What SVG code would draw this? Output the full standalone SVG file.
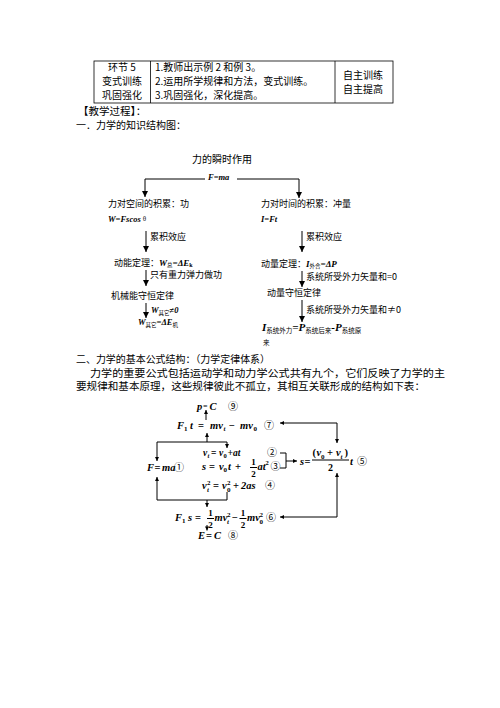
<svg xmlns="http://www.w3.org/2000/svg" width="500" height="708" viewBox="0 0 500 708">
<style>
text{fill:#000}
.cn{font-family:"Noto Sans CJK SC","Noto Sans CJK JP",sans-serif;font-weight:normal;font-style:normal}
.f{font-family:"Liberation Serif",serif;font-weight:bold;font-style:italic}
.r{font-family:"Liberation Serif",serif;font-weight:bold;font-style:normal}
.tb{stroke:#000;stroke-width:0.8;fill:none}
.ln{stroke:#000;stroke-width:1;fill:none}
.a1{marker-end:url(#ah1)}
.a2{marker-end:url(#ah2)}
.b2{marker-start:url(#ah2);marker-end:url(#ah2)}
</style>
<defs>
<marker id="ah1" viewBox="0 0 8 8" refX="8" refY="4" markerWidth="7" markerHeight="6" markerUnits="userSpaceOnUse" orient="auto-start-reverse"><path d="M0,0 L8,4 L0,8 z" fill="#000"/></marker>
<marker id="ah2" viewBox="0 0 8 8" refX="8" refY="4" markerWidth="5" markerHeight="4" markerUnits="userSpaceOnUse" orient="auto-start-reverse"><path d="M0,0 L8,4 L0,8 z" fill="#000"/></marker>
</defs>
<rect width="500" height="708" fill="#fff"/>

<g id="table">
<rect class="tb" x="94" y="61" width="299" height="42"/>
<line class="tb" x1="150.5" y1="61" x2="150.5" y2="103"/>
<line class="tb" x1="335" y1="61" x2="335" y2="103"/>
<text class="cn" font-size="10" x="122" y="71" text-anchor="middle">环节 5</text>
<text class="cn" font-size="10" x="122" y="85" text-anchor="middle">变式训练</text>
<text class="cn" font-size="10" x="122" y="99" text-anchor="middle">巩固强化</text>
<text class="cn" font-size="10" x="155" y="71">1.教师出示例 2 和例 3。</text>
<text class="cn" font-size="10" x="155" y="85">2.运用所学规律和方法，变式训练。</text>
<text class="cn" font-size="10" x="155" y="99">3.巩固强化，深化提高。</text>
<text class="cn" font-size="10" x="363" y="79" text-anchor="middle">自主训练</text>
<text class="cn" font-size="10" x="363" y="93" text-anchor="middle">自主提高</text>
</g>

<g id="headings">
<text class="cn" font-size="10.5" x="78" y="114.5">【教学过程】：</text>
<text class="cn" font-size="10" x="76" y="128.5">一．力学的知识结构图：</text>
<text class="cn" font-size="10" x="76" y="363" textLength="194" lengthAdjust="spacingAndGlyphs">二、力学的基本公式结构：（力学定律体系）</text>
<text class="cn" font-size="10" x="90" y="376.5" textLength="355" lengthAdjust="spacingAndGlyphs">力学的重要公式包括运动学和动力学公式共有九个，它们反映了力学的主</text>
<text class="cn" font-size="10" x="76" y="390" textLength="349" lengthAdjust="spacingAndGlyphs">要规律和基本原理，这些规律彼此不孤立，其相互关联形成的结构如下表：</text>
</g>

<g id="connectors">
<path class="ln a1" d="M205,179 H145 V197"/>
<path class="ln a1" d="M237,179 H299 V198"/>
<path class="ln a1" d="M146,231 V252"/>
<path class="ln a1" d="M146,270 V286"/>
<path class="ln a1" d="M146,303 V318"/>
<path class="ln a1" d="M302,231 V252"/>
<path class="ln a1" d="M302,271 V287"/>
<path class="ln a1" d="M302,300 V322"/>
<path class="ln a2" d="M206,420 V410"/>
<path class="ln a2" d="M207,442 V433"/>
<path class="ln b2" d="M157,461 V442 H227 V448"/>
<path class="ln" d="M157,477 V500 H227 V492" style="marker-start:url(#ah2)"/>
<path class="ln a2" d="M207,500 V507"/>
<path class="ln a2" d="M207,525 V530.5"/>
<path class="ln" d="M280,453 H286 V468 H280"/>
<path class="ln a2" d="M286,461 H297"/>
<path class="ln b2" d="M280,423 H337 V443"/>
<path class="ln b2" d="M337,473 V517 H280"/>
</g>

<g id="chart1-top">
<text class="cn" font-size="10" x="222" y="162.5" text-anchor="middle">力的瞬时作用</text>
<text class="f" font-size="8.5" x="208" y="179.5">F=ma</text>
</g>
<g id="work">
<text class="cn" font-size="9" x="108" y="207">力对空间的积累：功</text>
<text class="f" font-size="8.5" x="108" y="222">W=Fscos <tspan class="cn" font-size="6" dy="-1.5">θ</tspan></text>
<text class="cn" font-size="9" x="150" y="240">累积效应</text>
</g>
<g id="ke-theorem">
<text font-size="9" x="114" y="266"><tspan class="cn">动能定理：</tspan><tspan class="f">W</tspan><tspan class="cn" font-size="5.5" dy="1">总</tspan><tspan class="f" dy="-1">=ΔE</tspan><tspan class="r" font-size="6" dy="1">k</tspan></text>
<text class="cn" font-size="9" x="150" y="278">只有重力弹力做功</text>
</g>
<g id="energy-cons">
<text class="cn" font-size="9" x="111" y="299">机械能守恒定律</text>
<text font-size="8.5" x="151" y="313"><tspan class="f">W</tspan><tspan class="cn" font-size="5.5" dy="1.5">其它</tspan><tspan class="f" dy="-1.5">≠0</tspan></text>
<text font-size="8.5" x="138" y="325"><tspan class="f">W</tspan><tspan class="cn" font-size="5.5" dy="1.5">其它</tspan><tspan class="f" dy="-1.5">=ΔE</tspan><tspan class="cn" font-size="5.5" dy="1.5">机</tspan></text>
</g>
<g id="impulse">
<text class="cn" font-size="9" x="261" y="207">力对时间的积累：冲量</text>
<text class="f" font-size="8.5" x="261" y="222">I=Ft</text>
<text class="cn" font-size="9" x="306" y="240">累积效应</text>
</g>
<g id="momentum-theorem">
<text font-size="9" x="261" y="266.5"><tspan class="cn">动量定理：</tspan><tspan class="f">I</tspan><tspan class="cn" font-size="5.5" dy="1">外合</tspan><tspan class="f" dy="-1">=ΔP</tspan></text>
<text class="cn" font-size="9" x="306" y="280">系统所受外力矢量和=0</text>
</g>
<g id="momentum-cons">
<text class="cn" font-size="9" x="267" y="296">动量守恒定律</text>
<text class="cn" font-size="9" x="306" y="313">系统所受外力矢量和≠0</text>
<text font-size="11" x="262" y="331"><tspan class="f">I</tspan><tspan class="cn" font-size="6.5" dy="1.5">系统外力</tspan><tspan class="f" dy="-1.5">=P</tspan><tspan class="cn" font-size="6.5" dy="1.5">系统后来</tspan><tspan class="f" dy="-1.5">-P</tspan><tspan class="cn" font-size="6.5" dy="1.5">系统原</tspan></text>
<text class="cn" font-size="6.5" x="263" y="345">来</text>
</g>

<g id="eq9">
<text class="f" font-size="10.5" x="197" y="410">p</text>
<text class="r" font-size="8" x="203" y="409">=</text>
<text class="f" font-size="10.5" x="209.5" y="410">C</text>
<text class="cn" font-size="10" x="228" y="410">⑨</text>
</g>
<g id="eq7">
<text class="f" font-size="10.5" x="177" y="429">F</text>
<text class="r" font-size="7" x="184" y="431">1</text>
<text class="f" font-size="10.5" x="190" y="429">t</text>
<text class="r" font-size="10.5" x="198" y="429">=</text>
<text class="f" font-size="10.5" x="210" y="429">mv</text>
<text class="f" font-size="7" x="223.5" y="431">t</text>
<text class="r" font-size="10.5" x="229" y="429">−</text>
<text class="f" font-size="10.5" x="240" y="429">mv</text>
<text class="r" font-size="7" x="253.5" y="431">0</text>
<text class="cn" font-size="10" x="264" y="429">⑦</text>
</g>
<g id="eq2">
<text class="f" font-size="9.5" x="203" y="456">v</text>
<text class="f" font-size="6.5" x="207.5" y="458">t</text>
<text class="r" font-size="9.5" x="211" y="456">=</text>
<text class="f" font-size="9.5" x="219" y="456">v</text>
<text class="r" font-size="6.5" x="223.5" y="458">0</text>
<text class="f" font-size="9.5" x="227.5" y="456">+at</text>
<text class="cn" font-size="10" x="267" y="456">②</text>
</g>
<g id="eq1">
<text class="f" font-size="10.5" x="147" y="470.5">F</text>
<text class="r" font-size="10.5" x="154.5" y="470.5">=</text>
<text class="f" font-size="10.5" x="162" y="470.5">ma</text>
<text class="cn" font-size="10" x="174" y="470.5">①</text>
</g>
<g id="eq3">
<text class="f" font-size="10.5" x="202" y="470">s</text>
<text class="r" font-size="10.5" x="209" y="470">=</text>
<text class="f" font-size="10.5" x="219" y="470">v</text>
<text class="r" font-size="7" x="223.5" y="472">0</text>
<text class="f" font-size="10.5" x="228" y="470">t</text>
<text class="r" font-size="10.5" x="235" y="470">+</text>
<text class="r" font-size="9" x="253.5" y="465" text-anchor="middle">1</text>
<line class="ln" x1="250" y1="467.5" x2="257" y2="467.5" stroke-width="0.8"/>
<text class="r" font-size="9" x="253.5" y="476.5" text-anchor="middle">2</text>
<text class="f" font-size="10.5" x="257.5" y="470">at</text>
<text class="r" font-size="6.5" x="265.5" y="465">2</text>
<text class="cn" font-size="10" x="270.5" y="470">③</text>
</g>
<g id="eq4">
<text class="f" font-size="10.5" x="202" y="489">v</text>
<text class="f" font-size="7" x="207" y="491.5">t</text>
<text class="r" font-size="7" x="207" y="485">2</text>
<text class="r" font-size="10.5" x="213" y="489">=</text>
<text class="f" font-size="10.5" x="222" y="489">v</text>
<text class="r" font-size="7" x="227" y="491.5">0</text>
<text class="r" font-size="7" x="227" y="485">2</text>
<text class="r" font-size="10.5" x="233" y="489">+</text>
<text class="f" font-size="10.5" x="241" y="489">2as</text>
<text class="cn" font-size="10" x="265" y="489">④</text>
</g>
<g id="eq6">
<text class="f" font-size="10.5" x="175" y="521">F</text>
<text class="r" font-size="7" x="182" y="523">1</text>
<text class="f" font-size="10.5" x="188" y="521">s</text>
<text class="r" font-size="10.5" x="195" y="521">=</text>
<text class="r" font-size="9" x="210.5" y="516" text-anchor="middle">1</text>
<line class="ln" x1="207" y1="518.5" x2="214" y2="518.5" stroke-width="0.8"/>
<text class="r" font-size="9" x="210.5" y="527.5" text-anchor="middle">2</text>
<text class="f" font-size="10.5" x="214.5" y="521">mv</text>
<text class="f" font-size="7" x="227" y="523.5">t</text>
<text class="r" font-size="7" x="227" y="517">2</text>
<text class="r" font-size="10.5" x="232" y="521">−</text>
<text class="r" font-size="9" x="243" y="516" text-anchor="middle">1</text>
<line class="ln" x1="239.5" y1="518.5" x2="246.5" y2="518.5" stroke-width="0.8"/>
<text class="r" font-size="9" x="243" y="527.5" text-anchor="middle">2</text>
<text class="f" font-size="10.5" x="247" y="521">mv</text>
<text class="r" font-size="7" x="259.5" y="523.5">0</text>
<text class="r" font-size="7" x="259.5" y="517">2</text>
<text class="cn" font-size="10" x="266" y="521">⑥</text>
</g>
<g id="eq8">
<text class="f" font-size="10.5" x="198" y="538.5">E</text>
<text class="r" font-size="10.5" x="206" y="538.5">=</text>
<text class="f" font-size="10.5" x="214" y="538.5">C</text>
<text class="cn" font-size="10" x="228" y="538.5">⑧</text>
</g>
<g id="eq5">
<text class="f" font-size="10.5" x="300" y="465">s</text>
<text class="r" font-size="10.5" x="304.5" y="465">=</text>
<text class="r" font-size="10.5" x="312.5" y="456">(</text>
<text class="f" font-size="10.5" x="316.5" y="456">v</text>
<text class="r" font-size="7" x="321" y="458.5">0</text>
<text class="r" font-size="10.5" x="327" y="456">+</text>
<text class="f" font-size="10.5" x="336" y="456">v</text>
<text class="f" font-size="7" x="340.5" y="458.5">t</text>
<text class="r" font-size="10.5" x="344.5" y="456">)</text>
<line class="ln" x1="312" y1="460" x2="349" y2="460" stroke-width="0.8"/>
<text class="r" font-size="10" x="330.5" y="471" text-anchor="middle">2</text>
<text class="f" font-size="10.5" x="350" y="465">t</text>
<text class="cn" font-size="10" x="357" y="465">⑤</text>
</g>
</svg>
